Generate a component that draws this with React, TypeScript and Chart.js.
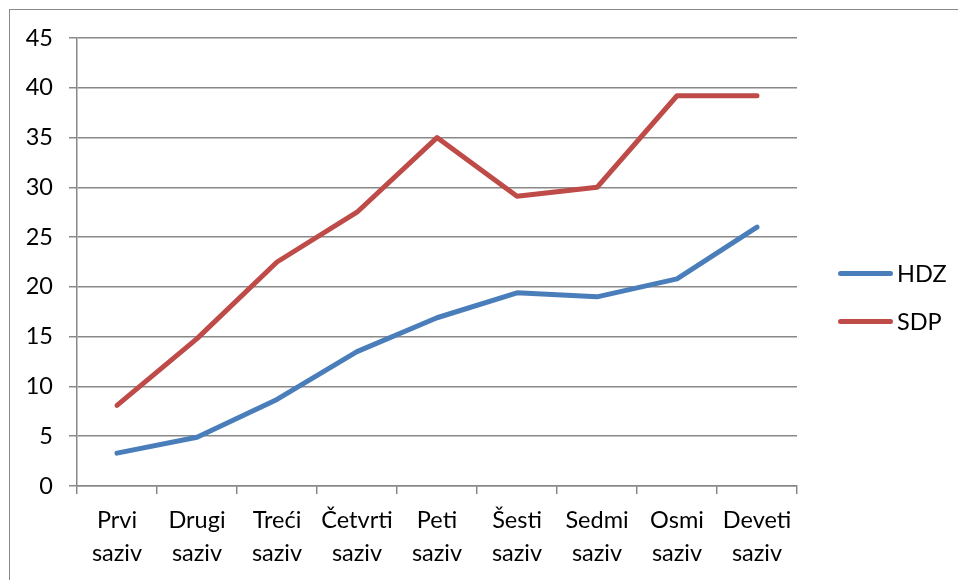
import React, { useEffect, useRef } from "react";
import { Chart, registerables } from "chart.js";

Chart.register(...registerables);

const categories: string[][] = [
  ["Prvi", "saziv"],
  ["Drugi", "saziv"],
  ["Treći", "saziv"],
  ["Četvrti", "saziv"],
  ["Peti", "saziv"],
  ["Šesti", "saziv"],
  ["Sedmi", "saziv"],
  ["Osmi", "saziv"],
  ["Deveti", "saziv"],
];
const hdzValues = [3.3, 4.9, 8.7, 13.5, 16.9, 19.4, 19.0, 20.8, 26.0];
const sdpValues = [8.1, 14.8, 22.5, 27.5, 35.0, 29.1, 30.0, 39.2, 39.2];
const seriesNames = ["HDZ", "SDP"];
const seriesColors = ["#4A7EBB", "#BE4B48"];
const yMin = 0;
const yMax = 45;
const yStep = 5;

const FONT = "Lato, 'Open Sans', sans-serif";
const FONT_SIZE = 23.5;
const GRID = "#888888";

export default function App() {
  const ref = useRef<HTMLCanvasElement | null>(null);

  useEffect(() => {
    if (!ref.current) return;
    const chart = new Chart(ref.current, {
      type: "line",
      data: {
        labels: categories,
        datasets: [
          {
            label: seriesNames[0],
            data: hdzValues,
            borderColor: seriesColors[0],
            backgroundColor: seriesColors[0],
            borderWidth: 5,
            pointRadius: 0,
            tension: 0,
            borderCapStyle: "round",
            borderJoinStyle: "round",
          },
          {
            label: seriesNames[1],
            data: sdpValues,
            borderColor: seriesColors[1],
            backgroundColor: seriesColors[1],
            borderWidth: 5,
            pointRadius: 0,
            tension: 0,
            borderCapStyle: "round",
            borderJoinStyle: "round",
          },
        ],
      },
      options: {
        animation: false,
        responsive: false,
        maintainAspectRatio: false,
        layout: { padding: { left: 10, right: 161, top: 38, bottom: 0 } },
        plugins: {
          legend: { display: false },
          tooltip: { enabled: false },
        },
        scales: {
          x: {
            type: "category",
            offset: true,
            grid: {
              offset: true,
              drawOnChartArea: false,
              drawTicks: true,
              tickLength: 8,
              color: GRID,
              lineWidth: 1.5,
            },
            border: { display: true, color: GRID, width: 1.5 },
            ticks: {
              color: "#000",
              font: { family: FONT, size: FONT_SIZE, lineHeight: 1.4 },
              padding: 10,
              maxRotation: 0,
              autoSkip: false,
            },
            afterFit: (s: any) => {
              s.height = 94;
            },
          },
          y: {
            min: yMin,
            max: yMax,
            grid: {
              color: GRID,
              lineWidth: 1.5,
              drawTicks: true,
              tickLength: 8,
            },
            border: { display: true, color: GRID, width: 1.5 },
            ticks: {
              stepSize: yStep,
              color: "#000",
              font: { family: FONT, size: FONT_SIZE },
              padding: 16,
            },
            afterFit: (s: any) => {
              s.width = 67;
            },
          },
        },
      },
    });
    return () => chart.destroy();
  }, []);

  const legendTops = [273, 321];

  return (
    <div
      style={{
        position: "fixed",
        left: 0,
        top: 0,
        width: 958,
        height: 580,
        background: "#fff",
        overflow: "hidden",
      }}
    >
      <canvas ref={ref} width={958} height={580} style={{ position: "absolute", left: 0, top: 0 }} />
      <div
        style={{
          position: "absolute",
          left: 9,
          top: 9,
          width: 1000,
          height: 1000,
          borderLeft: "1.5px solid #888",
          borderTop: "1.5px solid #888",
          pointerEvents: "none",
        }}
      />
      {seriesNames.map((n, i) => (
        <div
          key={n}
          style={{
            position: "absolute",
            left: 838,
            top: legendTops[i] - 16,
            height: 32,
            display: "flex",
            alignItems: "center",
            fontFamily: FONT,
            fontSize: FONT_SIZE,
            color: "#000",
          }}
        >
          <span
            style={{
              display: "inline-block",
              width: 55,
              height: 5,
              borderRadius: 3,
              background: seriesColors[i],
              marginRight: 4,
            }}
          />
          <span>{n}</span>
        </div>
      ))}
    </div>
  );
}
